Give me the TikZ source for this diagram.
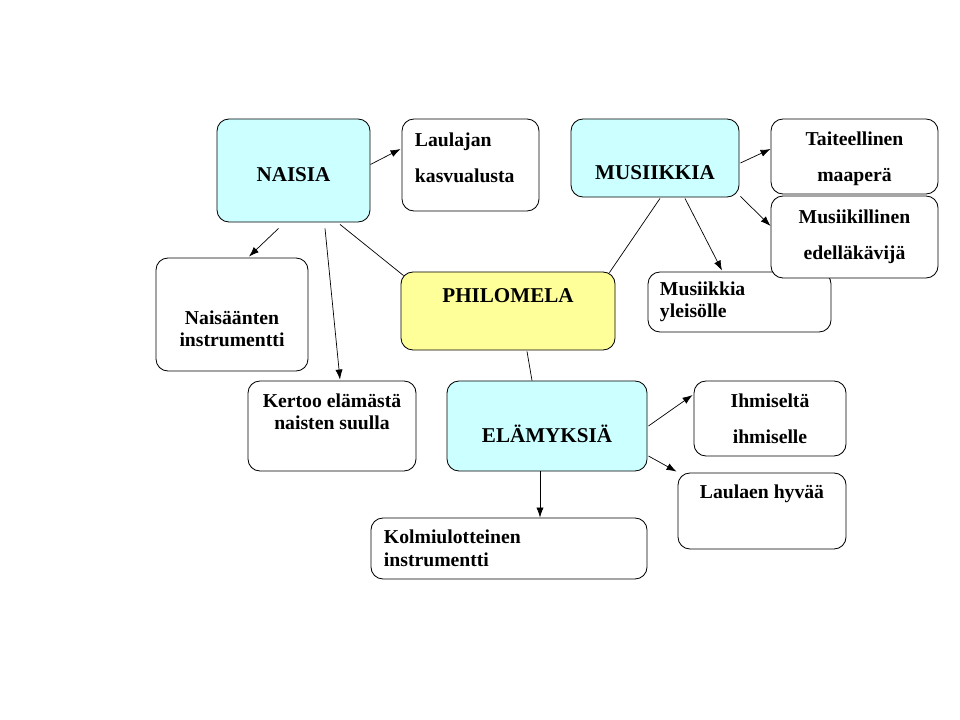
\documentclass[tikz,border=0pt]{standalone}
\usepackage{fontspec}
\setmainfont{Liberation Serif}
\usetikzlibrary{arrows.meta,calc}
\definecolor{cyanbox}{RGB}{204,255,255}
\definecolor{yellowbox}{RGB}{255,255,153}

\begin{document}
\begin{tikzpicture}[x=0.025cm,y=-0.025cm,
  box/.style={draw,rounded corners=3mm,line width=0.6pt,fill=white,
    font=\bfseries\fontsize{14}{16}\selectfont,align=center,inner sep=0pt},
  topic/.style={box,fill=cyanbox,font=\bfseries\fontsize{15}{18}\selectfont},
  hub/.style={topic,fill=yellowbox},
  link/.style={line width=0.5pt},
  arr/.style={link,-{Latex[length=2.5mm,width=1.8mm]}}]

\useasboundingbox (0,0) rectangle (960,720);

% main topics
\node[topic,minimum width=38.25mm,minimum height=25.75mm,text height=15pt,text depth=0pt] (naisia) at (293.5,170.5) {NAISIA};
\node[topic,minimum width=42mm,minimum height=19.5mm,text height=31pt,text depth=0pt] (musiikkia) at (655,158) {MUSIIKKIA};
\node[hub,minimum width=53.5mm,minimum height=19.5mm,text height=5pt,text depth=16.4pt] (philomela) at (508,311) {PHILOMELA};
\node[topic,minimum width=50mm,minimum height=22.5mm,text height=22.8pt,text depth=0pt] (elamyksia) at (547,426) {ELÄMYKSIÄ};

% NAISIA
\node[box,minimum width=34.25mm,minimum height=23mm,text width=27.75mm,align=left,text height=10pt,text depth=35.8pt] (laulajan) at (470.5,165) {Laulajan\\[9.6pt]kasvualusta};
\node[box,minimum width=38mm,minimum height=28.25mm,text height=47.2pt,text depth=1pt] (naisaanten) at (232,314.5) {Naisäänten\\instrumentti};
\node[box,minimum width=42mm,minimum height=22.5mm,text height=26pt,text depth=20.4pt] (kertoo) at (332,426) {Kertoo elämästä\\naisten suulla};

% MUSIIKKIA
\node[box,minimum width=41.75mm,minimum height=18.75mm,text height=39.2pt,text depth=3pt] (taiteellinen) at (854.5,156.5) {Taiteellinen\\[9.6pt]maaperä};
\node[box,minimum width=45.75mm,minimum height=15mm,text width=39.75mm,align=left] (yleisolle) at (739.5,302) {Musiikkia\\yleisölle};
\node[box,minimum width=41.75mm,minimum height=20.5mm] (musiikillinen) at (854.5,237) {Musiikillinen\\[9.6pt]edelläkävijä};

% ELÄMYKSIÄ
\node[box,minimum width=38mm,minimum height=18.75mm] (ihmiselta) at (770,418.5) {Ihmiseltä\\[9.6pt]ihmiselle};
\node[box,minimum width=42mm,minimum height=19mm,text height=4pt,text depth=22pt] (laulaen) at (762,511) {Laulaen hyvää};
\node[box,minimum width=69mm,minimum height=15.25mm,text width=62.5mm,align=left] (kolmiulotteinen) at (509,548.5) {Kolmiulotteinen\\instrumentti};

% links to the centre
\draw[link] ($(naisia.south)+(46.5,2)$) -- ($(philomela.north west)+(3,4)$);
\draw[link] ($(musiikkia.south)+(5,1)$) -- ($(philomela.north east)+(-6,1)$);
\draw[link] ($(philomela.south)+(19,1)$) -- ($(elamyksia.north)+(-15,0)$);

% arrows
\draw[arr] ($(naisia.east)+(0,-6)$) -- ($(laulajan.west)+(-1,-16)$);
\draw[arr] ($(naisia.south)+(-15,6)$) -- ($(naisaanten.north)+(17,-1)$);
\draw[arr] ($(naisia.south)+(31.5,6)$) -- ($(kertoo.north)+(8,-1)$);
\draw[arr] ($(musiikkia.east)+(1,5)$) -- ($(taiteellinen.west)+(0,-7.5)$);
\draw[arr] ($(musiikkia.south east)+(1,-1)$) -- ($(musiikillinen.west)+(0,-11)$);
\draw[arr] ($(musiikkia.south)+(30,1)$) -- ($(yleisolle.north)+(-17.5,-1)$);
\draw[arr] ($(elamyksia.east)+(1,0)$) -- ($(ihmiselta.west)+(-1,-23.5)$);
\draw[arr] ($(elamyksia.east)+(1,30)$) -- ($(laulaen.north west)+(-1,-1)$);
\draw[arr] ($(elamyksia.south)+(-7,0)$) -- ($(kolmiulotteinen.north)+(31,0)$);

\end{tikzpicture}
\end{document}
